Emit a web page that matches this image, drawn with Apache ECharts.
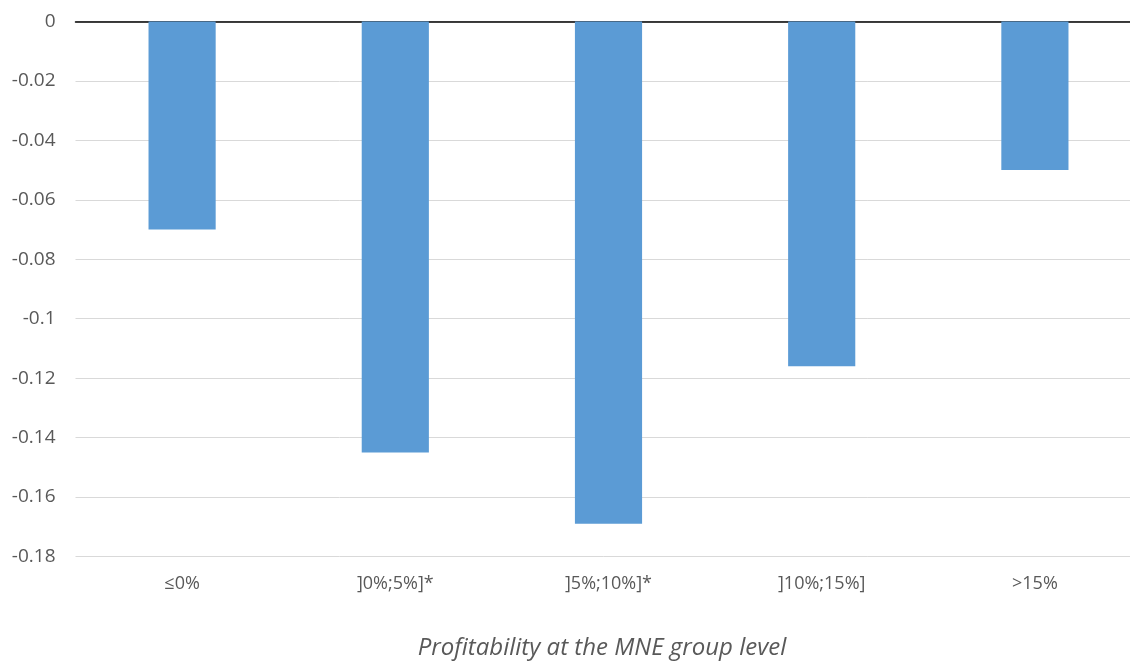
<!DOCTYPE html>
<html><head><meta charset="utf-8">
<script src="https://cdn.jsdelivr.net/npm/echarts@6/dist/echarts.min.js"></script>
<style>html,body{margin:0;padding:0;background:#fff}#c{width:1130px;height:661px}</style>
</head><body><div id="c"></div>
<script>
const categories = ['≤0%', ']0%;5%]*', ']5%;10%]*', ']10%;15%]', '>15%'];
const values = [-0.070, -0.145, -0.169, -0.116, -0.050];
const yMin = -0.18, yMax = 0, yStep = 0.02;
const axisTitle = 'Profitability at the MNE group level';

const chart = echarts.init(document.getElementById('c'));
const font = '"Open Sans", "Noto Sans", sans-serif';
chart.setOption({
  animation: false,
  grid: {left: 75.5, width: 1066, top: 21.5, height: 535, containLabel: false, outerBoundsMode: 'none'},
  xAxis: [{
    type: 'category', data: categories, position: 'bottom',
    axisLine: {show: false, onZero: false}, axisTick: {show: false},
    axisLabel: {color: '#595959', fontSize: 18, fontFamily: font, margin: 18}
  }, {
    type: 'category', data: categories, position: 'top',
    axisLine: {show: true, onZero: false, lineStyle: {color: '#000', width: 1.5}},
    axisTick: {show: false}, axisLabel: {show: false}
  }],
  yAxis: {
    type: 'value', min: yMin, max: yMax, interval: yStep,
    axisLine: {show: false}, axisTick: {show: false},
    axisLabel: {color: '#595959', fontSize: 19, fontFamily: font, margin: 20,
      formatter: v => (Math.abs(v) < 1e-9 ? '0' : String(+v.toFixed(2)))},
    splitLine: {lineStyle: {color: '#d9d9d9', width: 1}}
  },
  series: [{
    type: 'bar', data: values, barWidth: '31.5%',
    itemStyle: {color: '#5B9BD5'}
  }],
  graphic: [{
    type: 'text', x: 602, y: 648,
    style: {text: axisTitle, font: 'italic 24px ' + font, fill: '#595959', align: 'center', verticalAlign: 'middle'}
  }]
});
</script></body></html>
